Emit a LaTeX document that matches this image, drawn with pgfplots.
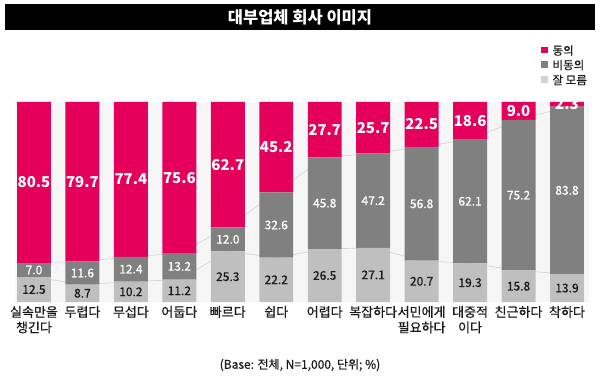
\documentclass[border=0pt]{standalone}
\usepackage{fontspec}
\setmainfont{Noto Sans CJK KR}
\newfontfamily\medfont[FakeBold=0.6]{Noto Sans CJK KR}
\usepackage{pgfplots}
\usepackage{pgfplotstable}
\pgfplotsset{compat=1.18}
\definecolor{pinkc}{HTML}{E4005B}
\definecolor{dgray}{HTML}{808080}
\definecolor{lgray}{HTML}{BFBFBF}
\definecolor{bgc}{HTML}{F6F6F6}
\definecolor{linec}{HTML}{D2D2D2}
\definecolor{txt}{HTML}{1A1A1A}

\pgfplotstableread{
x a b c
0 12.5 7.0 80.5
1 8.7 11.6 79.7
2 10.2 12.4 77.4
3 11.2 13.2 75.6
4 25.3 12.0 62.7
5 22.2 32.6 45.2
6 26.5 45.8 27.7
7 27.1 47.2 25.7
8 20.7 56.8 22.5
9 19.3 62.1 18.6
10 15.8 75.2 9.0
11 13.9 83.8 2.3
}\datatable

\pgfplotsset{
  base/.style={
    at={(14.6pt,79pt)}, anchor=south west,
    scale only axis, width=574.2pt, height=200pt,
    xmin=-0.4, xmax=11.45, ymin=0, ymax=100,
    axis line style={draw=none},
    /pgf/number format/assume math mode=true,
  },
}

\begin{document}
\begin{tikzpicture}[x=1pt,y=1pt]
\path[use as bounding box] (0,0) rectangle (600,381);

% title bar
\fill[black] (5,351) rectangle (595,377);
\node[text=white, font=\fontsize{16.5}{18}\selectfont\bfseries] at (300,364) {대부업체 회사 이미지};

% legend
\fill[pinkc] (541,327.5) rectangle (547.5,334);
\node[anchor=west, font=\fontsize{11.5}{13}\selectfont\medfont, text=txt] at (549,330.5) {동의};
\fill[dgray] (541,313) rectangle (547.5,319.5);
\node[anchor=west, font=\fontsize{11.5}{13}\selectfont\medfont, text=txt] at (549,316) {비동의};
\fill[lgray!70] (541,298) rectangle (547.5,304.5);
\node[anchor=west, font=\fontsize{11.5}{13}\selectfont\medfont, text=txt] at (549,301) {잘 모름};

% background + connector lines
\begin{axis}[base, ticks=none,
  axis background/.style={fill=bgc}]
\addplot[linec, line width=0.6pt] table[x=x, y=a] {\datatable};
\addplot[linec, line width=0.6pt] table[x=x, y expr=\thisrow{a}+\thisrow{b}] {\datatable};
\end{axis}

% stacked bars
\begin{axis}[base, ybar stacked, bar width=0.7,
  ytick=\empty, xtick=data, major tick length=0pt,
  xticklabels={{실속만을\\챙긴다},두렵다,무섭다,어둡다,빠르다,쉽다,어렵다,복잡하다,{서민에게\\필요하다},{대중적\\이다},친근하다,착하다},
  xticklabel style={align=center, text=txt, font=\fontsize{13}{15.5}\selectfont\medfont, yshift=-0.5pt},
  ]
\addplot[fill=lgray, draw=none] table[x=x, y=a] {\datatable};
\addplot[fill=dgray, draw=none] table[x=x, y=b] {\datatable};
\addplot[fill=pinkc, draw=none] table[x=x, y=c] {\datatable};
\end{axis}

% value labels
\begin{axis}[base, ticks=none]
\addplot[draw=none, mark=none, point meta=explicit,
  nodes near coords={\pgfmathprintnumber[fixed,fixed zerofill,precision=1]{\pgfplotspointmeta}},
  every node near coord/.append style={anchor=center, text=txt, font=\fontsize{12}{14}\selectfont\medfont}]
  table[x=x, y expr=\thisrow{a}/2, meta=a] {\datatable};
\addplot[draw=none, mark=none, point meta=explicit,
  nodes near coords={\pgfmathprintnumber[fixed,fixed zerofill,precision=1]{\pgfplotspointmeta}},
  every node near coord/.append style={anchor=center, text=white, font=\fontsize{12}{14}\selectfont\medfont}]
  table[x=x, y expr=\thisrow{a}+\thisrow{b}/2, meta=b] {\datatable};
\addplot[draw=none, mark=none, point meta=explicit,
  nodes near coords={\pgfmathprintnumber[fixed,fixed zerofill,precision=1]{\pgfplotspointmeta}},
  every node near coord/.append style={anchor=center, text=white, font=\fontsize{15}{17}\selectfont\bfseries}]
  table[x=x, y expr=\thisrow{a}+\thisrow{b}+\thisrow{c}/2, meta=c] {\datatable};
\end{axis}

% footnote
\node[text=txt, font=\fontsize{12}{14}\selectfont\medfont] at (300,16) {(Base: 전체, N=1,000, 단위; \%)};
\end{tikzpicture}
\end{document}
